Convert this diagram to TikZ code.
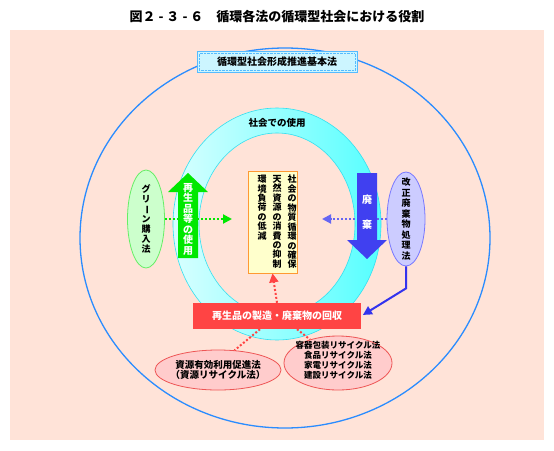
\documentclass[tikz,border=0pt]{standalone}
\usepackage{fontspec}
\usepackage{graphicx}
\setmainfont{Noto Sans CJK JP}
\usetikzlibrary{arrows.meta,positioning,shapes.geometric}

\definecolor{panelpink}{HTML}{FFE3D8}
\definecolor{outerblue}{HTML}{2A8CFF}
\definecolor{basicfill}{HTML}{CCF5FF}
\definecolor{basicline}{HTML}{55BBFF}
\definecolor{ringleft}{HTML}{D8FFFF}
\definecolor{ringright}{HTML}{55FFFF}
\definecolor{ringline}{HTML}{33E0F0}
\definecolor{reusegreen}{HTML}{00E800}
\definecolor{disposeblue}{HTML}{4040F0}
\definecolor{corefill}{HTML}{FFFFCC}
\definecolor{coreline}{HTML}{FF9933}
\definecolor{greenfill}{HTML}{CCFFCC}
\definecolor{greenline}{HTML}{66EE66}
\definecolor{wastefill}{HTML}{CCCCFF}
\definecolor{wasteline}{HTML}{7777FF}
\definecolor{linkblue}{HTML}{3333EE}
\definecolor{recyclered}{HTML}{FF4444}
\definecolor{pinkfill}{HTML}{FFCCCC}
\definecolor{pinkline}{HTML}{EE5555}

\newcommand{\tatebar}{\rotatebox[origin=c]{-90}{ー}}
\newcommand{\zuhyphen}{\hbox to 11pt{\hss-\hss}}

\tikzset{
  basicbox/.style={draw=basicline, fill=basicfill, line width=0.8pt, minimum width=160, minimum height=21, inner sep=0pt, font=\bfseries\fontsize{10}{10}\selectfont},
  vtext/.style={align=center, inner sep=0pt, font=\bfseries\fontsize{10}{10.5}\selectfont},
  coltext/.style={align=center, inner sep=0pt, font=\bfseries\fontsize{9}{9.45}\selectfont},
  corebox/.style={draw=coreline, fill=corefill, line width=0.8pt, minimum width=49, minimum height=102, inner sep=0pt},
  greenlaw/.style={ellipse, draw=greenline, fill=greenfill, line width=0.8pt, minimum width=37, minimum height=98, inner sep=0pt},
  wastelaw/.style={ellipse, draw=wasteline, fill=wastefill, line width=0.8pt, minimum width=38, minimum height=94, inner sep=0pt},
  pinklaw/.style={ellipse, draw=pinkline, fill=pinkfill, line width=0.8pt, inner sep=0pt},
  lawtext/.style={align=center, inner sep=0pt, font=\bfseries\fontsize{9}{10}\selectfont},
  recyclebox/.style={fill=recyclered, text=white, minimum width=168, minimum height=26, inner sep=0pt, font=\bfseries\fontsize{10}{10}\selectfont},
  dots/.style={line width=2pt, dash pattern=on 2pt off 2pt},
  dotarrow/.style={dots, -{Triangle[length=9pt,width=9pt]}},
}

\begin{document}
\begin{tikzpicture}[x=1pt, y=-1pt]
  % Background
  \useasboundingbox (0,0) rectangle (554,450);
  \fill[white] (0,0) rectangle (554,450);
  \fill[panelpink] (10,30) rectangle (544,440);
  % Title
  \node[font=\bfseries\fontsize{13}{13}\selectfont] (title) at (277,17) {図２\zuhyphen ３\zuhyphen ６　循環各法の循環型社会における役割};
  % Outer circle
  \draw[outerblue, line width=1.3pt] (285,238) ellipse [x radius=205, y radius=190];
  % Basic law
  \node[basicbox] (basic) at (277,62) {循環型社会形成推進基本法};
  \draw[basicline, densely dotted] ([shift={(2.5,2.5)}]basic.north west) rectangle ([shift={(-2.5,-2.5)}]basic.south east);
  % Ring
  \shade[left color=ringleft, right color=ringright, even odd rule] (277,224) ellipse [x radius=104, y radius=116] (277,224) ellipse [x radius=78, y radius=91];
  \draw[ringline, line width=0.6pt] (277,224) ellipse [x radius=104, y radius=116] (277,224) ellipse [x radius=78, y radius=91];
  \node[font=\bfseries\fontsize{9.5}{9.5}\selectfont] (use) at (277,123) {社会での使用};
  % Goals
  \node[corebox] (core) at (272.5,222) {};
  \node[coltext, anchor=north] (goal1) at (292,175) {社\\会\\の\\物\\質\\循\\環\\の\\確\\保};
  \node[coltext, anchor=north] (goal2) at (277,175) {天\\然\\資\\源\\の\\消\\費\\の\\抑\\制};
  \node[coltext, anchor=north] (goal3) at (262,175) {環\\境\\負\\荷\\の\\低\\減};
  % Laws at the sides
  \node[greenlaw] (green) at (146,219) {};
  \node[lawtext, font=\bfseries\fontsize{9}{10}\selectfont] (greentext) at (green) {グ\\リ\\\tatebar\\ン\\購\\入\\法};
  \node[wastelaw] (waste) at (406,219) {};
  \node[lawtext, font=\bfseries\fontsize{9}{10.5}\selectfont] (wastetext) at (waste) {改\\正\\廃\\棄\\物\\処\\理\\法};
  % Dotted arrows
  \coordinate (greentip) at (232,219);
  \coordinate (wastetip) at (322,219);
  \draw[dotarrow, reusegreen] (green.east) -- (greentip);
  \draw[dotarrow, disposeblue!80] (waste.west) -- (wastetip);
  % Reuse arrow
  \fill[reusegreen] (178,258) -- (178,192) -- (168,192) -- (188,173) -- (208,192) -- (198,192) -- (198,258) -- cycle;
  \node[vtext, text=white] (reuse) at (188,219) {再\\生\\品\\等\\の\\使\\用};
  % Dispose arrow
  \fill[disposeblue] (357,173) -- (377,173) -- (377,240) -- (387,240) -- (367,259) -- (347,240) -- (357,240) -- cycle;
  \node[vtext, text=white, font=\bfseries\fontsize{10}{25}\selectfont] (dispose) at (367,212) {廃\\棄};
  % Recycling
  \node[recyclebox] (recycle) at (277,316) {再生品の製造・廃棄物の回収};
  \draw[dotarrow, recyclered] (recycle.north) -- (core.south);
  \draw[linkblue, line width=2pt, -{Triangle[length=9pt,width=9pt]}, shorten >=2pt] (waste.south) -- ++(0,22) -- (recycle.east);
  % Recycling laws
  \node[pinklaw, minimum width=126, minimum height=40] (resource) at (218,370) {};
  \node[lawtext, font=\bfseries\fontsize{9.5}{10}\selectfont] (resourcetext) at (resource) {資源有効利用促進法\\（資源リサイクル法）};
  \node[pinklaw, minimum width=108, minimum height=54] (specific) at (338,363) {};
  \node[lawtext, font=\bfseries\fontsize{8.5}{10}\selectfont] (specifictext) at ([yshift=3]specific) {容器包装リサイクル法\\食品リサイクル法\\家電リサイクル法\\建設リサイクル法};
  \draw[dots, recyclered] ([xshift=-17]recycle.south) -- (resource.50);
  \draw[dots, recyclered] ([xshift=20]recycle.south) -- (specific.140);
\end{tikzpicture}
\end{document}
